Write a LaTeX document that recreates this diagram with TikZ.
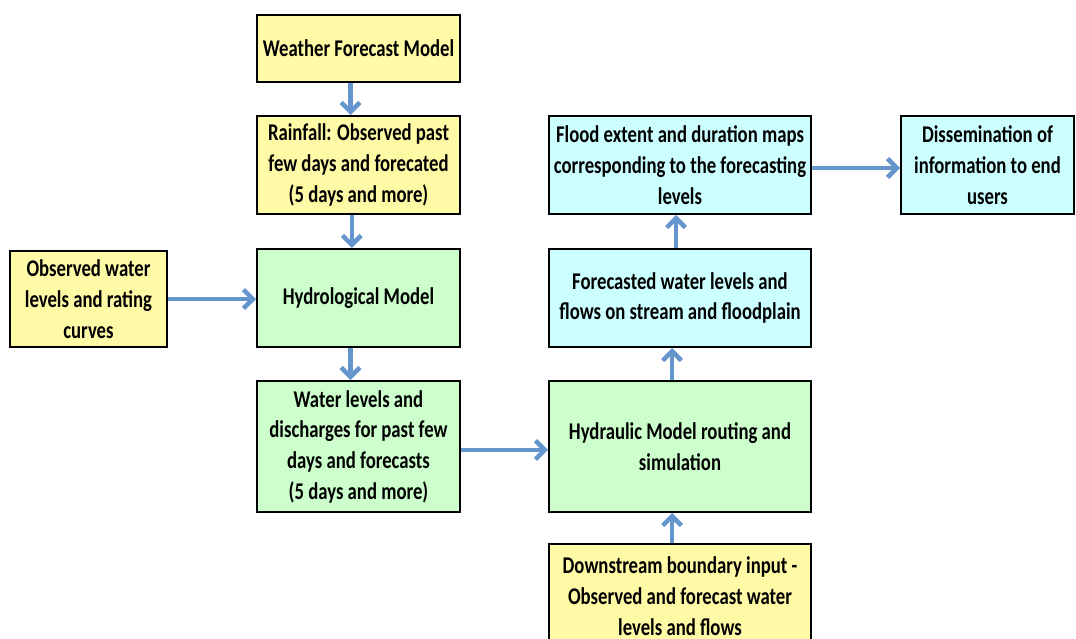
\documentclass[tikz,border=0pt]{standalone}
\usepackage{fontspec}
\setmainfont{Carlito}[FakeStretch=0.78]
\usetikzlibrary{arrows.meta}

\definecolor{boxyellow}{RGB}{255,250,165}
\definecolor{boxgreen}{RGB}{204,255,204}
\definecolor{boxcyan}{RGB}{204,255,255}
\definecolor{arrowblue}{RGB}{100,150,205}

\tikzset{
  box/.style={draw, line width=1.5pt, align=center, inner sep=2pt,
    font=\bfseries\fontsize{18}{23}\selectfont},
  ybox/.style={box, fill=boxyellow},
  gbox/.style={box, fill=boxgreen},
  cbox/.style={box, fill=boxcyan},
  flow/.style={draw=arrowblue, line width=3.4pt,
    -{Straight Barb[length=7pt,width=14pt]}}
}

\begin{document}
\begin{tikzpicture}[x=0.75pt, y=-0.75pt]
    \useasboundingbox (0,0) rectangle (1076,639);
    \clip (0,0) rectangle (1076,639);

    % Left column: forecast chain
    \node[ybox, minimum width=152.25pt, minimum height=50.25pt] (weather) at (358.5,48.5) {Weather Forecast Model};
    \node[ybox, minimum width=152.25pt, minimum height=73.5pt] (rain) at (358.5,165) {Rainfall: Observed past\\few days and forecated\\(5 days and more)};
    \node[gbox, minimum width=152.25pt, minimum height=73.5pt] (hydro) at (358.5,298) {Hydrological Model};
    \node[gbox, minimum width=152.25pt, minimum height=98.25pt] (wlevels) at (358.5,446.5) {Water levels and\\discharges for past few\\days and forecasts\\(5 days and more)};
    \node[ybox, minimum width=117.75pt, minimum height=72pt] (obs) at (88.5,299) {Observed water\\levels and rating\\curves};

    % Right column: hydraulic chain
    \node[gbox, minimum width=196.5pt, minimum height=98.25pt] (hydraulic) at (680,446.5) {Hydraulic Model routing and\\simulation};
    \node[cbox, minimum width=196.5pt, minimum height=73.5pt] (fcst) at (680,298) {Forecasted water levels and\\flows on stream and floodplain};
    \node[cbox, minimum width=196.5pt, minimum height=73.5pt] (flood) at (680,165) {Flood extent and duration maps\\corresponding to the forecasting\\levels};
    \node[cbox, minimum width=129.75pt, minimum height=73.5pt] (dissem) at (987.5,165) {Dissemination of\\information to end\\users};
    \node[ybox, minimum width=196.5pt, minimum height=78pt] (down) at (680,596) {Downstream boundary input -\\Observed and forecast water\\levels and flows};

    % Connectors
    \draw[flow] ([xshift=-6pt]weather.south) -- ([xshift=-6pt]rain.north);
    \draw[flow] ([xshift=-5pt]rain.south) -- ([xshift=-5pt]hydro.north);
    \draw[flow] (obs.east) -- (obs.east -| hydro.west);
    \draw[flow] ([xshift=-6pt]hydro.south) -- ([xshift=-6pt]wlevels.north);
    \draw[flow] ([yshift=-2.6pt]wlevels.east) -- ([yshift=-2.6pt]hydraulic.west);
    \draw[flow] ([xshift=-6pt]hydraulic.north) -- ([xshift=-6pt]fcst.south);
    \draw[flow] ([xshift=-3pt]fcst.north) -- ([xshift=-3pt]flood.south);
    \draw[flow] ([yshift=-2.25pt]flood.east) -- ([yshift=-2.25pt]dissem.west);
    \draw[flow] ([xshift=-6pt]down.north) -- ([xshift=-6pt]hydraulic.south);
\end{tikzpicture}
\end{document}
